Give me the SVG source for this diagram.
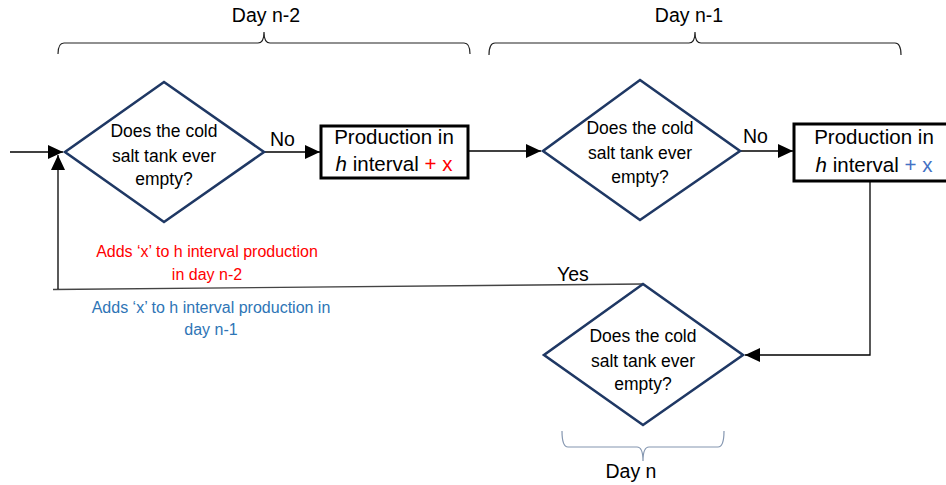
<svg xmlns="http://www.w3.org/2000/svg" width="946" height="485" viewBox="0 0 946 485">
<style>
text{font-family:"Liberation Sans",Arial,sans-serif;fill:#000}
.dia{fill:#fff;stroke:#1f3864;stroke-width:2.6}
.box{fill:#fff;stroke:#000;stroke-width:3}
.dt{font-size:17.5px;text-anchor:middle}
.bt{font-size:20.5px;text-anchor:middle}
.lbl{font-size:19.5px}
.day{font-size:19.5px;text-anchor:middle}
.con{fill:none;stroke:#000;stroke-width:1.3}
.brace{fill:none;stroke:#222;stroke-width:1.2}
.note{font-size:16px;text-anchor:middle}
.red{fill:#ff0000}
.blue{fill:#2e75b6}
.blue2{fill:#4472c4}
</style>
<defs>
<marker id="ah" markerUnits="userSpaceOnUse" markerWidth="16" markerHeight="14" refX="15" refY="7" orient="auto">
<path d="M0,0 L15,7 L0,14 Z" fill="#000"/>
</marker>
</defs>

<g id="braces">
<path class="brace" d="M58,54 Q58,43 64,43 L258,43 Q264,43 264,32 Q264,43 270,43 L464,43 Q470,43 470,54"/>
<path class="brace" d="M489,55 Q489,43 495,43 L689,43 Q695,43 695,32 Q695,43 701,43 L895,43 Q901,43 901,55"/>
<path class="brace" style="stroke:#8496b0" d="M562,431 Q562,447 568,447 L637,447 Q643,447 643,461 Q643,447 649,447 L718,447 Q724,447 724,431"/>
<text class="day" x="266" y="22">Day n-2</text>
<text class="day" x="689" y="22">Day n-1</text>
<text class="day" x="631" y="478">Day n</text>
</g>

<g id="connectors">
<line class="con" x1="10" y1="152" x2="63" y2="152" marker-end="url(#ah)"/>
<line class="con" x1="264" y1="152" x2="320" y2="152" marker-end="url(#ah)"/>
<line class="con" x1="468" y1="151" x2="541" y2="151" marker-end="url(#ah)"/>
<line class="con" x1="740" y1="151" x2="793" y2="151" marker-end="url(#ah)"/>
<polyline class="con" points="870,181 870,355 745,355" marker-end="url(#ah)"/>
<polyline class="con" style="stroke:#444" points="643,284 53,289.5"/>
<line class="con" x1="58" y1="289" x2="58" y2="155" marker-end="url(#ah)"/>
<text class="lbl" x="270" y="146">No</text>
<text class="lbl" x="743" y="143">No</text>
<text class="lbl" x="557" y="281">Yes</text>
<text class="note red" x="207" y="257">Adds ‘x’ to h interval production</text>
<text class="note red" x="207" y="280">in day n-2</text>
<text class="note blue" x="211" y="313">Adds ‘x’ to h interval production in</text>
<text class="note blue" x="211" y="335">day n-1</text>
</g>

<g id="decision1">
<polygon class="dia" points="164,82 264,152 164,222 65,152"/>
<text class="dt" x="164" y="137">Does the cold</text>
<text class="dt" x="164" y="162">salt tank ever</text>
<text class="dt" x="164" y="185">empty?</text>
</g>

<g id="production1">
<rect class="box" x="321" y="126" width="147" height="52"/>
<text class="bt" x="394" y="144">Production in</text>
<text class="bt" x="394" y="171"><tspan font-style="italic">h</tspan> interval <tspan class="red">+ x</tspan></text>
</g>

<g id="decision2">
<polygon class="dia" points="640,80 740,151 640,220 543,151"/>
<text class="dt" x="640" y="134">Does the cold</text>
<text class="dt" x="640" y="159">salt tank ever</text>
<text class="dt" x="640" y="183">empty?</text>
</g>

<g id="production2">
<rect class="box" x="794" y="124" width="170" height="57"/>
<text class="bt" x="874" y="144">Production in</text>
<text class="bt" x="874" y="172"><tspan font-style="italic">h</tspan> interval <tspan class="blue2">+ x</tspan></text>
</g>

<g id="decision3">
<polygon class="dia" points="643,284 743,355 643,425 544,355"/>
<text class="dt" x="643" y="342">Does the cold</text>
<text class="dt" x="643" y="367">salt tank ever</text>
<text class="dt" x="643" y="390">empty?</text>
</g>
</svg>
